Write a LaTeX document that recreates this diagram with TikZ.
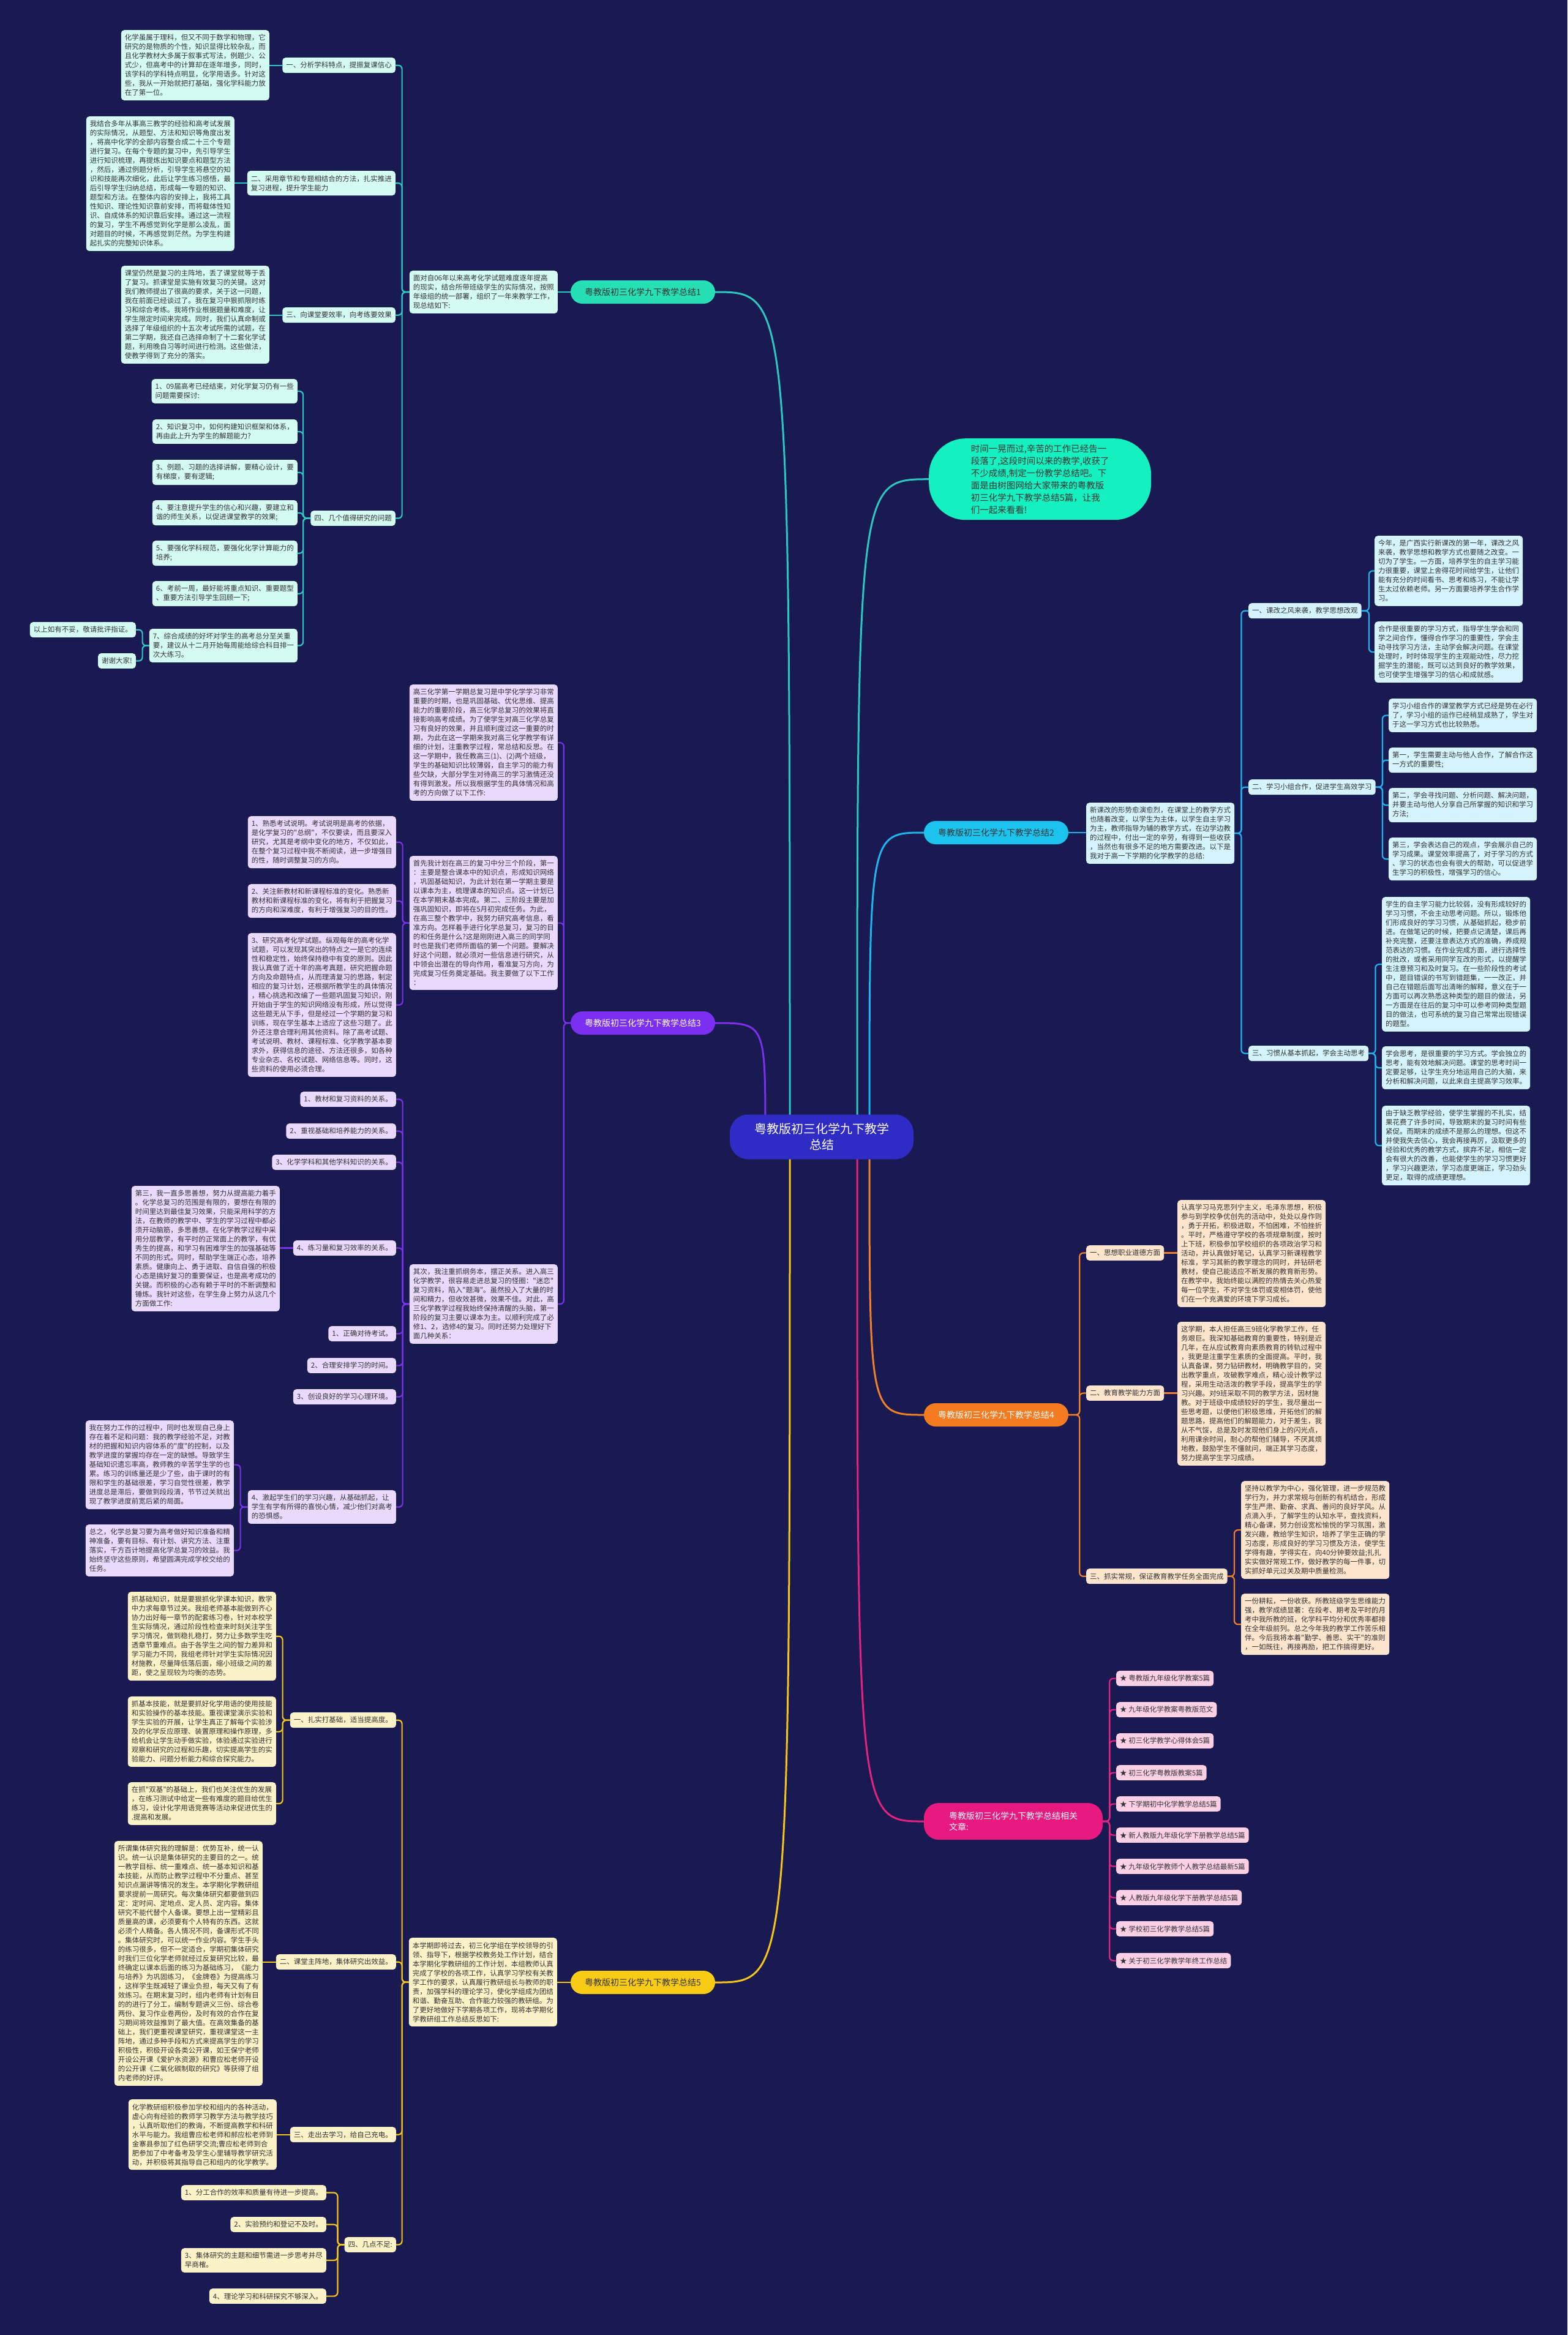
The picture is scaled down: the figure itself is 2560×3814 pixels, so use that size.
\documentclass[tikz,border=0pt]{standalone}
\usepackage{fontspec}
\newfontfamily\cjk{Noto Sans CJK SC}
\pgfdeclarelayer{back}
\pgfsetlayers{back,main}
\definecolor{bgc}{HTML}{1A1A52}
\definecolor{txt}{HTML}{333333}
\definecolor{cA}{HTML}{2CC8C0}
\definecolor{nA}{HTML}{27DFB5}
\definecolor{fA}{HTML}{D4FBF1}
\definecolor{nI}{HTML}{14F0BF}
\definecolor{cB}{HTML}{1FB5EC}
\definecolor{nB}{HTML}{1CC3EF}
\definecolor{fB}{HTML}{D4F3FD}
\definecolor{cC}{HTML}{7B30EC}
\definecolor{nC}{HTML}{7B2FF0}
\definecolor{fC}{HTML}{E8D9FD}
\definecolor{cD}{HTML}{F2802A}
\definecolor{nD}{HTML}{F47B20}
\definecolor{fD}{HTML}{FDE4CD}
\definecolor{cE}{HTML}{F5C518}
\definecolor{nE}{HTML}{F8CB15}
\definecolor{fE}{HTML}{FCF2C8}
\definecolor{cF}{HTML}{E2237F}
\definecolor{nF}{HTML}{E8197F}
\definecolor{fF}{HTML}{FBD0E5}
\definecolor{nCen}{HTML}{2E2CC5}
\tikzset{
 blk/.style={font=\cjk\fontsize{11.5}{15}\selectfont, align=left, inner xsep=6, inner ysep=7, rounded corners=5, text=txt},
 bA/.style={blk, fill=fA}, bB/.style={blk, fill=fB}, bC/.style={blk, fill=fC},
 bD/.style={blk, fill=fD}, bE/.style={blk, fill=fE}, bF/.style={blk, fill=fF},
 pill/.style={font=\cjk\fontsize{14}{18}\selectfont, minimum width=236, minimum height=38, rounded corners=19, inner sep=4},
 lA/.style={draw=cA, line width=2.2, rounded corners=6},
 lB/.style={draw=cB, line width=2.2, rounded corners=6},
 lC/.style={draw=cC, line width=2.2, rounded corners=6},
 lD/.style={draw=cD, line width=2.2, rounded corners=6},
 lE/.style={draw=cE, line width=2.2, rounded corners=6},
 lF/.style={draw=cF, line width=2.2, rounded corners=6},
}
\begin{document}
\begin{tikzpicture}[x=1pt,y=-1pt]
\useasboundingbox (0,0) rectangle (2560,3814);
\begin{pgfonlayer}{back}
\fill[bgc] (0,0) rectangle (2560,3814);
\end{pgfonlayer}

% center
\node[font=\cjk\fontsize{20}{26}\selectfont, fill=nCen, text=white, align=center, minimum width=300, minimum height=73, rounded corners=30] (cen) at (1342,1857) {粤教版初三化学九下教学\\总结};

% main branch nodes
\node[pill, fill=nA, text=txt] (br1) at (1050,477) {粤教版初三化学九下教学总结1};
\node[pill, fill=nB, text=txt] (br2) at (1627,1360) {粤教版初三化学九下教学总结2};
\node[pill, fill=nC, text=white] (br3) at (1050,1671) {粤教版初三化学九下教学总结3};
\node[pill, fill=nD, text=white] (br4) at (1627,2311) {粤教版初三化学九下教学总结4};
\node[pill, fill=nF, text=white, align=left, minimum width=292, minimum height=60, rounded corners=24] (rel) at (1655,2975) {粤教版初三化学九下教学总结相关\\文章:};
\node[pill, fill=nE, text=txt] (br5) at (1050,3238) {粤教版初三化学九下教学总结5};
\node[font=\cjk\fontsize{14.5}{20}\selectfont, fill=nI, text=txt, align=left, minimum width=363, minimum height=133, rounded corners=60, anchor=north west] (intro) at (1517,716) {时间一晃而过,辛苦的工作已经告一\\段落了,这段时间以来的教学,收获了\\不少成绩,制定一份教学总结吧。下\\面是由树图网给大家带来的粤教版\\初三化学九下教学总结5篇，让我\\们一起来看看!};

% ---------------- branch 1
\node[bA, anchor=north east] (d1) at (911,442) {面对自06年以来高考化学试题难度逐年提高\\的现实，结合所带班级学生的实际情况，按照\\年级组的统一部署，组织了一年来教学工作，\\现总结如下:};
\node[bA, anchor=north east] (s11) at (646,94) {一、分析学科特点，提振复课信心};
\node[bA, anchor=north east] (t11) at (440,49) {化学虽属于理科，但又不同于数学和物理，它\\研究的是物质的个性，知识显得比较杂乱，而\\且化学教材大多属于叙事式写法，例题少、公\\式少，但高考中的计算却在逐年增多，同时，\\该学科的学科特点明显，化学用语多。针对这\\些，我从一开始就把打基础，强化学科能力放\\在了第一位。};
\node[bA, anchor=north east] (s12) at (646,279) {二、采用章节和专题相结合的方法，扎实推进\\复习进程，提升学生能力};
\node[bA, anchor=north east] (t12) at (383,190) {我结合多年从事高三教学的经验和高考试发展\\的实际情况，从题型、方法和知识等角度出发\\，将高中化学的全部内容整合成二十三个专题\\进行复习。在每个专题的复习中，先引导学生\\进行知识梳理，再提炼出知识要点和题型方法\\，然后，通过例题分析，引导学生将悬空的知\\识和技能再次细化，此后让学生练习感悟，最\\后引导学生归纳总结，形成每一专题的知识、\\题型和方法。在整体内容的安排上，我将工具\\性知识、理论性知识靠前安排，而将载体性知\\识、自成体系的知识靠后安排。通过这一流程\\的复习，学生不再感觉到化学是那么凌乱，面\\对题目的时候，不再感觉到茫然。为学生构建\\起扎实的完整知识体系。};
\node[bA, anchor=north east] (s13) at (646,502) {三、向课堂要效率，向考练要效果};
\node[bA, anchor=north east] (t13) at (440,434) {课堂仍然是复习的主阵地，丢了课堂就等于丢\\了复习。抓课堂是实施有效复习的关键。这对\\我们教师提出了很高的要求，关于这一问题，\\我在前面已经谈过了。我在复习中狠抓限时练\\习和综合考练。我将作业根据题量和难度，让\\学生限定时间来完成。同时，我们认真命制或\\选择了年级组织的十五次考试所需的试题，在\\第二学期，我还自己选择命制了十二套化学试\\题，利用晚自习等时间进行检测。这些做法，\\使教学得到了充分的落实。};
\node[bA, anchor=north east] (s14) at (646,834) {四、几个值得研究的问题};
\node[bA, anchor=north east] (q1) at (486,619) {1、09届高考已经结束，对化学复习仍有一些\\问题需要探讨:};
\node[bA, anchor=north east] (q2) at (486,685) {2、知识复习中，如何构建知识框架和体系，\\再由此上升为学生的解题能力?};
\node[bA, anchor=north east] (q3) at (486,751) {3、例题、习题的选择讲解，要精心设计，要\\有梯度，要有逻辑;};
\node[bA, anchor=north east] (q4) at (486,817) {4、要注意提升学生的信心和兴趣，要建立和\\谐的师生关系，以促进课堂教学的效果;};
\node[bA, anchor=north east] (q5) at (486,883) {5、要强化学科规范，要强化化学计算能力的\\培养;};
\node[bA, anchor=north east] (q6) at (486,949) {6、考前一周，最好能将重点知识、重要题型\\、重要方法引导学生回顾一下;};
\node[bA, anchor=north east] (q7) at (486,1027) {7、综合成绩的好坏对学生的高考总分至关重\\要，建议从十二月开始每周能给综合科目排一\\次大练习。};
\node[bA, anchor=north east] (e1) at (222,1016) {以上如有不妥，敬请批评指证。};
\node[bA, anchor=north east] (e2) at (222,1067) {谢谢大家!};

% ---------------- branch 2
\node[bB, anchor=north west] (d2) at (1774,1311) {新课改的形势愈演愈烈，在课堂上的教学方式\\也随着改变，以学生为主体，以学生自主学习\\为主，教师指导为辅的教学方式，在边学边教\\的过程中，付出一定的辛劳，有得到一些收获\\，当然也有很多不足的地方需要改进。以下是\\我对于高一下学期的化学教学的总结:};
\node[bB, anchor=north west] (s21) at (2039,985) {一、课改之风来袭，教学思想改观};
\node[bB, anchor=north west] (u211) at (2245,875) {今年，是广西实行新课改的第一年，课改之风\\来袭，教学思想和教学方式也要随之改变。一\\切为了学生。一方面，培养学生的自主学习能\\力很重要，课堂上舍得花时间给学生，让他们\\能有充分的时间看书、思考和练习，不能让学\\生太过依赖老师。另一方面要培养学生合作学\\习。};
\node[bB, anchor=north west] (u212) at (2245,1015) {合作是很重要的学习方式，指导学生学会和同\\学之间合作，懂得合作学习的重要性，学会主\\动寻找学习方法，主动学会解决问题。在课堂\\处理时，时时体现学生的主观能动性，尽力挖\\掘学生的潜能，既可以达到良好的教学效果，\\也可使学生增强学习的信心和成就感。};
\node[bB, anchor=north west] (s22) at (2039,1273) {二、学习小组合作，促进学生高效学习};
\node[bB, anchor=north west] (u221) at (2268,1141) {学习小组合作的课堂教学方式已经是势在必行\\了，学习小组的运作已经稍显成熟了，学生对\\于这一学习方式也比较熟悉。};
\node[bB, anchor=north west] (u222) at (2268,1221) {第一，学生需要主动与他人合作，了解合作这\\一方式的重要性;};
\node[bB, anchor=north west] (u223) at (2268,1287) {第二，学会寻找问题、分析问题、解决问题，\\并要主动与他人分享自己所掌握的知识和学习\\方法;};
\node[bB, anchor=north west] (u224) at (2268,1368) {第三，学会表达自己的观点，学会展示自己的\\学习成果。课堂效率提高了，对于学习的方式\\、学习的状态也会有很大的帮助，可以促进学\\生学习的积极性，增强学习的信心。};
\node[bB, anchor=north west] (s23) at (2039,1708) {三、习惯从基本抓起，学会主动思考};
\node[bB, anchor=north west] (u231) at (2257,1465) {学生的自主学习能力比较弱，没有形成较好的\\学习习惯，不会主动思考问题。所以，锻炼他\\们形成良好的学习习惯，从基础抓起，稳步前\\进。在做笔记的时候，把要点记清楚，课后再\\补充完整，还要注意表达方式的准确，养成规\\范表达的习惯。在作业完成方面，进行选择性\\的批改，或者采用同学互改的形式，以提醒学\\生注意预习和及时复习。在一些阶段性的考试\\中，题目错误的书写到错题集，一一改正，并\\自己在错题后面写出清晰的解释，意义在于一\\方面可以再次熟悉这种类型的题目的做法，另\\一方面是在往后的复习中可以参考同种类型题\\目的做法，也可系统的复习自己常常出现错误\\的题型。};
\node[bB, anchor=north west] (u232) at (2257,1709) {学会思考，是很重要的学习方式。学会独立的\\思考，能有效地解决问题。课堂的思考时间一\\定要足够，让学生充分地运用自己的大脑，来\\分析和解决问题，以此来自主提高学习效率。};
\node[bB, anchor=north west] (u233) at (2257,1806) {由于缺乏教学经验，使学生掌握的不扎实，结\\果花费了许多时间，导致期末的复习时间有些\\紧促。而期末的成绩不是那么的理想。但这不\\并使我失去信心，我会再接再厉，汲取更多的\\经验和优秀的教学方式，摈弃不足，相信一定\\会有很大的改善，也能使学生的学习习惯更好\\，学习兴趣更浓，学习态度更端正，学习劲头\\更足，取得的成绩更理想。};

% ---------------- branch 3
\node[bC, anchor=north east] (v31) at (911,1118) {高三化学第一学期总复习是中学化学学习非常\\重要的时期，也是巩固基础、优化思维、提高\\能力的重要阶段，高三化学总复习的效果将直\\接影响高考成绩。为了使学生对高三化学总复\\习有良好的效果，并且顺利度过这一重要的时\\期，为此在这一学期来我对高三化学教学有详\\细的计划，注重教学过程，常总结和反思。在\\这一学期中，我任教高三(1)、(2)两个班级，\\学生的基础知识比较薄弱，自主学习的能力有\\些欠缺，大部分学生对待高三的学习激情还没\\有得到激发。所以我根据学生的具体情况和高\\考的方向做了以下工作:};
\node[bC, anchor=north east] (v32) at (911,1398) {首先我计划在高三的复习中分三个阶段，第一\\：主要是整合课本中的知识点，形成知识网络\\，巩固基础知识，为此计划在第一学期主要是\\以课本为主，梳理课本的知识点。这一计划已\\在本学期末基本完成。第二、三阶段主要是加\\强巩固知识，即将在5月初完成任务。为此，\\在高三整个教学中，我努力研究高考信息，看\\准方向。怎样着手进行化学总复习，复习的目\\的和任务是什么?这是刚刚进入高三的同学同\\时也是我们老师所面临的第一个问题。要解决\\好这个问题，就必须对一些信息进行研究，从\\中领会出潜在的导向作用，看准复习方向，为\\完成复习任务奠定基础。我主要做了以下工作\\：};
\node[bC, anchor=north east] (v33) at (911,2065) {其次，我注重抓纲务本，摆正关系。进入高三\\化学教学，很容易走进总复习的怪圈："迷恋"\\复习资料，陷入"题海"。虽然投入了大量的时\\间和精力，但收效甚微，效果不佳。对此，高\\三化学教学过程我始终保持清醒的头脑，第一\\阶段的复习主要以课本为主。以顺利完成了必\\修1、2，选修4的复习。同时还努力处理好下\\面几种关系：};
\node[bC, anchor=north east] (w1) at (647,1333) {1、熟悉考试说明。考试说明是高考的依据，\\是化学复习的"总纲"，不仅要读，而且要深入\\研究，尤其是考纲中变化的地方，不仅如此，\\在整个复习过程中我不断阅读，进一步增强目\\的性，随时调整复习的方向。};
\node[bC, anchor=north east] (w2) at (647,1444) {2、关注新教材和新课程标准的变化。熟悉新\\教材和新课程标准的变化，将有利于把握复习\\的方向和深难度，有利于增强复习的目的性。};
\node[bC, anchor=north east] (w3) at (647,1524) {3、研究高考化学试题。纵观每年的高考化学\\试题，可以发现其突出的特点之一是它的连续\\性和稳定性，始终保持稳中有变的原则。因此\\我认真做了近十年的高考真题，研究把握命题\\方向及命题特点，从而理清复习的思路，制定\\相应的复习计划，还根据所教学生的具体情况\\，精心挑选和改编了一些题巩固复习知识，刚\\开始由于学生的知识网络没有形成，所以觉得\\这些题无从下手，但是经过一个学期的复习和\\训练，现在学生基本上适应了这些习题了。此\\外还注意合理利用其他资料。除了高考试题、\\考试说明、教材、课程标准、化学教学基本要\\求外，获得信息的途径、方法还很多，如各种\\专业杂志、名校试题、网络信息等。同时，这\\些资料的使用必须合理。};
\node[bC, anchor=north east] (x1) at (647,1783) {1、教材和复习资料的关系。};
\node[bC, anchor=north east] (x2) at (647,1835) {2、重视基础和培养能力的关系。};
\node[bC, anchor=north east] (x3) at (647,1886) {3、化学学科和其他学科知识的关系。};
\node[bC, anchor=north east] (x4) at (647,2026) {4、练习量和复习效率的关系。};
\node[bC, anchor=north east] (y4) at (457,1937) {第三，我一直多思善想，努力从提高能力着手\\。化学总复习的范围是有限的，要想在有限的\\时间里达到最佳复习效果，只能采用科学的方\\法，在教师的教学中、学生的学习过程中都必\\须开动脑筋，多思善想。在化学教学过程中采\\用分层教学，有平时的正常面上的教学，有优\\秀生的提高，和学习有困难学生的加强基础等\\不同的形式。同时，帮助学生端正心态，培养\\素质。健康向上、勇于进取、自信自强的积极\\心态是搞好复习的重要保证，也是高考成功的\\关键。而积极的心态有赖于平时的不断调整和\\锤炼。我针对这些，在学生身上努力从这几个\\方面做工作:};
\node[bC, anchor=north east] (x5) at (647,2166) {1、正确对待考试。};
\node[bC, anchor=north east] (x6) at (647,2218) {2、合理安排学习的时间。};
\node[bC, anchor=north east] (x7) at (647,2269) {3、创设良好的学习心理环境。};
\node[bC, anchor=north east] (x8) at (647,2434) {4、激起学生们的学习兴趣，从基础抓起，让\\学生有学有所得的喜悦心情，减少他们对高考\\的恐惧感。};
\node[bC, anchor=north east] (z1) at (382,2320) {我在努力工作的过程中，同时也发现自己身上\\存在着不足和问题：我的教学经验不足，对教\\材的把握和知识内容体系的"度"的控制，以及\\教学进度的掌握均存在一定的缺憾。导致学生\\基础知识遗忘率高，教师教的辛苦学生学的也\\累。练习的训练量还是少了些，由于课时的有\\限和学生的基础很差，学习自觉性很差，教学\\进度总是滞后，要做到段段清，节节过关就出\\现了教学进度前宽后紧的局面。};
\node[bC, anchor=north east] (z2) at (382,2490) {总之，化学总复习要为高考做好知识准备和精\\神准备，要有目标、有计划、讲究方法、注重\\落实，千方百计地提高化学总复习的效益。我\\始终坚守这些原则，希望圆满完成学校交给的\\任务。};

% ---------------- branch 4
\node[bD, anchor=north west] (s41) at (1774,2034) {一、思想职业道德方面};
\node[bD, anchor=north west] (p41) at (1923,1960) {认真学习马克思列宁主义，毛泽东思想，积极\\参与到学校争优创先的活动中，处处以身作则\\，勇于开拓，积极进取，不怕困难，不怕挫折\\。平时，严格遵守学校的各项规章制度，按时\\上下班，积极参加学校组织的各项政治学习和\\活动，并认真做好笔记，认真学习新课程教学\\标准，学习其新的教学理念的同时，并钻研老\\教材，使自己能适应不断发展的教育新形势。\\在教学中，我始终能以满腔的热情去关心热爱\\每一位学生，不对学生体罚或变相体罚，使他\\们在一个充满爱的环境下学习成长。};
\node[bD, anchor=north west] (s42) at (1774,2263) {二、教育教学能力方面};
\node[bD, anchor=north west] (p42) at (1923,2159) {这学期，本人担任高三9班化学教学工作，任\\务艰巨。我深知基础教育的重要性，特别是近\\几年，在从应试教育向素质教育的转轨过程中\\，我更是注重学生素质的全面提高。平时，我\\认真备课，努力钻研教材，明确教学目的，突\\出教学重点，攻破教学难点，精心设计教学过\\程，采用生动活泼的教学手段，提高学生的学\\习兴趣。对9班采取不同的教学方法，因材施\\教。对于班级中成绩较好的学生，我尽量出一\\些思考题，以便他们积极思维，开拓他们的解\\题思路，提高他们的解题能力，对于差生，我\\从不气馁，总是及时发现他们身上的闪光点，\\利用课余时间，耐心的帮他们辅导，不厌其烦\\地教，鼓励学生不懂就问，端正其学习态度，\\努力提高学生学习成绩。};
\node[bD, anchor=north west] (s43) at (1774,2562) {三、抓实常规，保证教育教学任务全面完成};
\node[bD, anchor=north west] (p431) at (2027,2419) {坚持以教学为中心，强化管理，进一步规范教\\学行为，并力求常规与创新的有机结合，形成\\学生严肃、勤奋、求真、善问的良好学风。从\\点滴入手，了解学生的认知水平，查找资料，\\精心备课，努力创设宽松愉悦的学习氛围，激\\发兴趣，教给学生知识，培养了学生正确的学\\习态度，形成良好的学习习惯及方法，使学生\\学得有趣，学得实在，向40分钟要效益;扎扎\\实实做好常规工作，做好教学的每一件事，切\\实抓好单元过关及期中质量检测。};
\node[bD, anchor=north west] (p432) at (2027,2603) {一份耕耘，一份收获。所教班级学生思维能力\\强，教学成绩显著：在段考、期考及平时的月\\考中我所教的班，化学科平均分和优秀率都排\\在全年级前列。总之今年我的教学工作苦乐相\\伴。今后我将本着"勤学、善思、实干"的准则\\，一如既往，再接再励，把工作搞得更好。};

% ---------------- related
\node[bF, anchor=north west] (r1) at (1823,2729) {★ 粤教版九年级化学教案5篇};
\node[bF, anchor=north west] (r2) at (1823,2780) {★ 九年级化学教案粤教版范文};
\node[bF, anchor=north west] (r3) at (1823,2831) {★ 初三化学教学心得体会5篇};
\node[bF, anchor=north west] (r4) at (1823,2883) {★ 初三化学粤教版教案5篇};
\node[bF, anchor=north west] (r5) at (1823,2934) {★ 下学期初中化学教学总结5篇};
\node[bF, anchor=north west] (r6) at (1823,2985) {★ 新人教版九年级化学下册教学总结5篇};
\node[bF, anchor=north west] (r7) at (1823,3036) {★ 九年级化学教师个人教学总结最新5篇};
\node[bF, anchor=north west] (r8) at (1823,3087) {★ 人教版九年级化学下册教学总结5篇};
\node[bF, anchor=north west] (r9) at (1823,3138) {★ 学校初三化学教学总结5篇};
\node[bF, anchor=north west] (r10) at (1823,3190) {★ 关于初三化学教学年终工作总结};

% ---------------- branch 5
\node[bE, anchor=north east] (d5) at (910,3165) {本学期即将过去，初三化学组在学校领导的引\\领、指导下，根据学校教务处工作计划，结合\\本学期化学教研组的工作计划，本组教师认真\\完成了学校的各项工作，认真学习学校有关教\\学工作的要求，认真履行教研组长与教师的职\\责，加强学科的理论学习，使化学组成为团结\\和谐、勤奋互助、合作能力较强的教研组。为\\了更好地做好下学期各项工作，现将本学期化\\学教研组工作总结反思如下:};
\node[bE, anchor=north east] (s51) at (647,2797) {一、扎实打基础，适当提高度。};
\node[bE, anchor=north east] (a51) at (451,2600) {抓基础知识，就是要狠抓化学课本知识，教学\\中力求每章节过关。我组老师基本能做到齐心\\协力出好每一章节的配套练习卷，针对本校学\\生实际情况，通过阶段性检查来时刻关注学生\\学习情况，做到稳扎稳打，努力让多数学生吃\\透章节重难点。由于各学生之间的智力差异和\\学习能力不同，我组老师针对学生实际情况因\\材施教，尽量降低落后面，缩小班级之间的差\\距，使之呈现较为均衡的态势。};
\node[bE, anchor=north east] (a52) at (451,2771) {抓基本技能，就是要抓好化学用语的使用技能\\和实验操作的基本技能。重视课堂演示实验和\\学生实验的开展，让学生真正了解每个实验涉\\及的化学反应原理、装置原理和操作原理，多\\给机会让学生动手做实验，体验通过实验进行\\观察和研究的过程和乐趣，切实提高学生的实\\验能力、问题分析能力和综合探究能力。};
\node[bE, anchor=north east] (a53) at (451,2911) {在抓"双基"的基础上，我们也关注优生的发展\\，在练习测试中给定一些有难度的题目给优生\\练习，设计化学用语竞赛等活动来促进优生的\\.提高和发展。};
\node[bE, anchor=north east] (s52) at (647,3192) {二、课堂主阵地，集体研究出效益。};
\node[bE, anchor=north east] (a54) at (429,3007) {所谓集体研究我的理解是：优势互补，统一认\\识。统一认识是集体研究的主要目的之一。统\\一教学目标、统一重难点、统一基本知识和基\\本技能，从而防止教学过程中不分重点、甚至\\知识点漏讲等情况的发生。本学期化学教研组\\要求提前一周研究。每次集体研究都要做到四\\定：定时间、定地点、定人员、定内容。集体\\研究不能代替个人备课。要想上出一堂精彩且\\质量高的课，必须要有个人特有的东西。这就\\必须个人精备。各人情况不同，备课形式不同\\。集体研究时，可以统一作业内容。学生手头\\的练习很多，但不一定适合，学期初集体研究\\时我们三位化学老师就经过反复研究比较，最\\终确定以课本后面的练习为基础练习，《能力\\与培养》为巩固练习，《金牌卷》为提高练习\\，这样学生既减轻了课业负担，每天又有了有\\效练习。在期末复习时，组内老师有计划有目\\的的进行了分工，编制专题讲义三份、综合卷\\两份、复习作业卷两份，及时有效的合作在复\\习期间将效益推到了最大值。在高效集备的基\\础上，我们更重视课堂研究，重视课堂这一主\\阵地，通过多种手段和方式来提高学生的学习\\积极性，积极开设各类公开课，如王保宁老师\\开设公开课《爱护水资源》和曹应松老师开设\\的公开课《二氧化碳制取的研究》等获得了组\\内老师的好评。};
\node[bE, anchor=north east] (s53) at (647,3474) {三、走出去学习，给自己充电。};
\node[bE, anchor=north east] (a55) at (452,3429) {化学教研组积极参加学校和组内的各种活动，\\虚心向有经验的教师学习教学方法与教学技巧\\，认真听取他们的教诲，不断提高教学和科研\\水平与能力。我组曹应松老师和郝应松老师到\\金寨县参加了红色研学交流;曹应松老师到合\\肥参加了中考备考及学生心里辅导教学研究活\\动，并积极将其指导自己和组内的化学教学。};
\node[bE, anchor=north east] (s54) at (647,3654) {四、几点不足:};
\node[bE, anchor=north east] (k1) at (533,3569) {1、分工合作的效率和质量有待进一步提高。};
\node[bE, anchor=north east] (k2) at (533,3621) {2、实验预约和登记不及时。};
\node[bE, anchor=north east] (k3) at (533,3672) {3、集体研究的主题和细节需进一步思考并尽\\早商榷。};
\node[bE, anchor=north east] (k4) at (533,3738) {4、理论学习和科研探究不够深入。};

% ---------------- connectors
\begin{pgfonlayer}{back}
% from center
\draw[cA, line width=3] (1290,1840) .. controls (1290,477) .. (br1.east);
\draw[cA, line width=3] (1400,1830) .. controls (1400,783) .. (intro.west);
\draw[cB, line width=3] (1420,1840) .. controls (1420,1360) .. (br2.west);
\draw[cC, line width=3] (1250,1857) .. controls (1250,1671) .. (br3.east);
\draw[cD, line width=3] (1420,1880) .. controls (1420,2311) .. (br4.west);
\draw[cF, line width=3] (1400,1885) .. controls (1400,2975) .. (rel.west);
\draw[cE, line width=3] (1290,1880) .. controls (1290,3238) .. (br5.east);
% branch 1
\draw[lA] (br1.west) -- (br1.west -| d1.east);
\foreach \c in {s11,s12,s13,s14} \draw[lA] (d1.west) -- ++(-12,0) |- (\c.east);
\draw[lA] (s11.west) -- (s11.west -| t11.east);
\draw[lA] (s12.west) -- (s12.west -| t12.east);
\draw[lA] (s13.west) -- (s13.west -| t13.east);
\foreach \c in {q1,q2,q3,q4,q5,q6,q7} \draw[lA] (s14.west) -- ++(-12,0) |- (\c.east);
\foreach \c in {e1,e2} \draw[lA] (q7.west) -- ++(-11,0) |- (\c.east);
% branch 2
\draw[lB] (br2.east) -- (br2.east -| d2.west);
\foreach \c in {s21,s22,s23} \draw[lB] (d2.east) -- ++(11,0) |- (\c.west);
\foreach \c in {u211,u212} \draw[lB] (s21.east) -- ++(12,0) |- (\c.west);
\foreach \c in {u221,u222,u223,u224} \draw[lB] (s22.east) -- ++(11,0) |- (\c.west);
\foreach \c in {u231,u232,u233} \draw[lB] (s23.east) -- ++(11,0) |- (\c.west);
% branch 3
\foreach \c in {v31,v32,v33} \draw[lC] (br3.west) -- ++(-11,0) |- (\c.east);
\foreach \c in {w1,w2,w3} \draw[lC] (v32.west) -- ++(-11,0) |- (\c.east);
\foreach \c in {x1,x2,x3,x4,x5,x6,x7,x8} \draw[lC] (v33.west) -- ++(-11,0) |- (\c.east);
\draw[lC] (x4.west) -- (x4.west -| y4.east);
\foreach \c in {z1,z2} \draw[lC] (x8.west) -- ++(-12,0) |- (\c.east);
% branch 4
\foreach \c in {s41,s42,s43} \draw[lD] (br4.east) -- ++(18,0) |- (\c.west);
\draw[lD] (s41.east) -- (s41.east -| p41.west);
\draw[lD] (s42.east) -- (s42.east -| p42.west);
\foreach \c in {p431,p432} \draw[lD] (s43.east) -- ++(11,0) |- (\c.west);
% related
\foreach \c in {r1,r2,r3,r4,r5,r6,r7,r8,r9,r10} \draw[lF] (rel.east) -- ++(11,0) |- (\c.west);
% branch 5
\draw[lE] (br5.west) -- (br5.west -| d5.east);
\foreach \c in {s51,s52,s53,s54} \draw[lE] (d5.west) -- ++(-11,0) |- (\c.east);
\foreach \c in {a51,a52,a53} \draw[lE] (s51.west) -- ++(-12,0) |- (\c.east);
\draw[lE] (s52.west) -- (s52.west -| a54.east);
\draw[lE] (s53.west) -- (s53.west -| a55.east);
\foreach \c in {k1,k2,k3,k4} \draw[lE] (s54.west) -- ++(-11,0) |- (\c.east);
\end{pgfonlayer}
\end{tikzpicture}
\end{document}
